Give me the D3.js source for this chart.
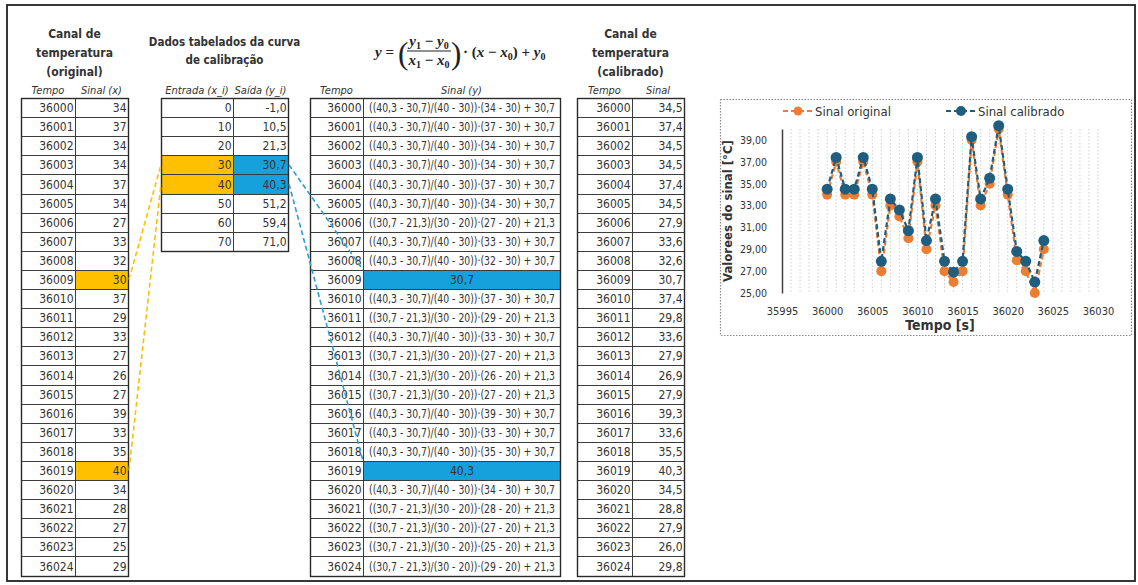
<!DOCTYPE html>
<html>
<head>
<meta charset="utf-8">
<script src="https://cdn.jsdelivr.net/npm/d3@7"></script>
<style>
body { margin: 0; background: #fff; }
text { font-family: "Liberation Sans Narrow", "DejaVu Sans Condensed", "Arial Narrow", sans-serif; fill: #333; }
text.eq { font-family: "Liberation Serif", "DejaVu Serif", serif; font-weight: bold; font-size: 15px; fill: #222; }
</style>
</head>
<body>
<script>
var width = 1138;
var height = 585;

// dados
var tempo = [36000, 36001, 36002, 36003, 36004, 36005, 36006, 36007, 36008, 36009, 36010, 36011, 36012,
    36013, 36014, 36015, 36016, 36017, 36018, 36019, 36020, 36021, 36022, 36023, 36024];
var sinalOriginal = [34, 37, 34, 34, 37, 34, 27, 33, 32, 30, 37, 29, 33, 27, 26, 27, 39, 33, 35, 40, 34, 28, 27, 25, 29];
var sinalCalibrado = [34.5, 37.4, 34.5, 34.5, 37.4, 34.5, 27.9, 33.6, 32.6, 30.7, 37.4, 29.8, 33.6, 27.9, 26.9,
    27.9, 39.3, 33.6, 35.5, 40.3, 34.5, 28.8, 27.9, 26.0, 29.8];
var entrada = [0, 10, 20, 30, 40, 50, 60, 70];
var saida = [-1.0, 10.5, 21.3, 30.7, 40.3, 51.2, 59.4, 71.0];
var formulas = [
    "((40,3 - 30,7)/(40 - 30))·(34 - 30) + 30,7",
    "((40,3 - 30,7)/(40 - 30))·(37 - 30) + 30,7",
    "((40,3 - 30,7)/(40 - 30))·(34 - 30) + 30,7",
    "((40,3 - 30,7)/(40 - 30))·(34 - 30) + 30,7",
    "((40,3 - 30,7)/(40 - 30))·(37 - 30) + 30,7",
    "((40,3 - 30,7)/(40 - 30))·(34 - 30) + 30,7",
    "((30,7 - 21,3)/(30 - 20))·(27 - 20) + 21,3",
    "((40,3 - 30,7)/(40 - 30))·(33 - 30) + 30,7",
    "((40,3 - 30,7)/(40 - 30))·(32 - 30) + 30,7",
    "30,7",
    "((40,3 - 30,7)/(40 - 30))·(37 - 30) + 30,7",
    "((30,7 - 21,3)/(30 - 20))·(29 - 20) + 21,3",
    "((40,3 - 30,7)/(40 - 30))·(33 - 30) + 30,7",
    "((30,7 - 21,3)/(30 - 20))·(27 - 20) + 21,3",
    "((30,7 - 21,3)/(30 - 20))·(26 - 20) + 21,3",
    "((30,7 - 21,3)/(30 - 20))·(27 - 20) + 21,3",
    "((40,3 - 30,7)/(40 - 30))·(39 - 30) + 30,7",
    "((40,3 - 30,7)/(40 - 30))·(33 - 30) + 30,7",
    "((40,3 - 30,7)/(40 - 30))·(35 - 30) + 30,7",
    "40,3",
    "((40,3 - 30,7)/(40 - 30))·(34 - 30) + 30,7",
    "((30,7 - 21,3)/(30 - 20))·(28 - 20) + 21,3",
    "((30,7 - 21,3)/(30 - 20))·(27 - 20) + 21,3",
    "((30,7 - 21,3)/(30 - 20))·(25 - 20) + 21,3",
    "((30,7 - 21,3)/(30 - 20))·(29 - 20) + 21,3"
];
var marcados = [36009, 36019];   // linhas que caem exatamente em 30 e 40
var pontosCurva = [30, 40];
var xTicks = [35995, 36000, 36005, 36010, 36015, 36020, 36025, 36030];
var yTicks = [25, 27, 29, 31, 33, 35, 37, 39];

var laranja = "#FFC000", azul = "#17A1DC";

var br = d3.formatLocale({decimal: ",", thousands: ".", grouping: [3], currency: ["R$", ""], minus: "-"});
var f1 = br.format(".1f"), f2 = br.format(".2f");

var svg = d3.select("body")
        .append("svg")
        .attr("width", width)
        .attr("height", height);

svg.append("rect")
        .attr("x", 7).attr("y", 5)
        .attr("width", 1128).attr("height", 576)
        .attr("fill", "none").attr("stroke", "#222").attr("stroke-width", 1.8);

var rowY = d3.scaleLinear().domain([0, 25]).range([98, 575.5]);
var rowMid = function (i) { return rowY(i + 0.5); };

function drawTable(cols, rows) {
    var g = svg.append("g");
    rows.forEach(function (row, i) {
        var ci = 0;
        var y0 = Math.round(rowY(i)) + 0.5, y1 = Math.round(rowY(i + 1)) + 0.5;
        row.forEach(function (c) {
            var span = c.span || 1;
            var xa = cols[ci] + 0.5, xb = cols[ci + span] + 0.5;
            g.append("rect")
                    .attr("x", xa).attr("y", y0)
                    .attr("width", xb - xa).attr("height", y1 - y0)
                    .attr("fill", c.fill || "#fff")
                    .attr("stroke", "#3c3c3c").attr("stroke-width", 1);
            var t = g.append("text")
                    .attr("y", (y0 + y1) / 2 + 4)
                    .attr("font-size", 12)
                    .text(c.t);
            if (c.mid) {
                t.attr("x", (xa + xb) / 2).attr("text-anchor", "middle");
            } else {
                t.attr("x", xb - 2).attr("text-anchor", "end");
            }
            if (c.len) t.attr("textLength", c.len).attr("lengthAdjust", "spacingAndGlyphs");
            ci += span;
        });
    });
    g.append("rect")
            .attr("x", cols[0] + 0.5).attr("y", Math.round(rowY(0)) + 0.5)
            .attr("width", cols[cols.length - 1] - cols[0])
            .attr("height", Math.round(rowY(rows.length)) - Math.round(rowY(0)))
            .attr("fill", "none").attr("stroke", "#2a2a2a").attr("stroke-width", 1.4);
}

function label(x, y, txt, opt) {
    opt = opt || {};
    return svg.append("text")
            .attr("x", x).attr("y", y)
            .attr("text-anchor", "middle")
            .attr("font-size", opt.size || 11)
            .attr("font-weight", opt.bold ? "bold" : null)
            .attr("font-style", opt.italic ? "italic" : null)
            .attr("fill", opt.color || "#333")
            .text(txt);
}

var t1 = [21, 75, 128], t2 = [161, 233, 288], tf = [310, 363, 560], tc = [577, 632, 684];

// tabela 1 - original
drawTable(t1, tempo.map(function (d, i) {
    return [{t: d}, {t: sinalOriginal[i], fill: marcados.indexOf(d) >= 0 ? laranja : null}];
}));
// tabela 2 - curva de calibracao
drawTable(t2, entrada.map(function (d, i) {
    var m = pontosCurva.indexOf(d) >= 0;
    return [{t: d, fill: m ? laranja : null}, {t: f1(saida[i]), fill: m ? azul : null}];
}));
// tabela 3 - formulas
drawTable(tf, tempo.map(function (d, i) {
    if (marcados.indexOf(d) >= 0) return [{t: d}, {t: formulas[i], fill: azul, mid: true}];
    return [{t: d}, {t: formulas[i], mid: true, len: 186}];
}));
// tabela 4 - calibrado
drawTable(tc, tempo.map(function (d, i) {
    return [{t: d}, {t: f1(sinalCalibrado[i])}];
}));

// titulos
["Canal de", "temperatura", "(original)"].forEach(function (s, i) {
    label((t1[0] + t1[2]) / 2, 37.5 + i * 19, s, {bold: true, size: 12, color: "#222"});
});
["Dados tabelados da curva", "de calibração"].forEach(function (s, i) {
    label((t2[0] + t2[2]) / 2, 46 + i * 18, s, {bold: true, size: 11.5, color: "#222"});
});
["Canal de", "temperatura", "(calibrado)"].forEach(function (s, i) {
    label((tc[0] + tc[2]) / 2, 37.5 + i * 19, s, {bold: true, size: 12, color: "#222"});
});
[[t1, "Tempo", "Sinal (x)"], [t2, "Entrada (x_i)", "Saída (y_i)"], [tf, "Tempo", "Sinal (y)"], [tc, "Tempo", "Sinal"]]
        .forEach(function (h) {
            label((h[0][0] + h[0][1]) / 2, 94, h[1], {italic: true, size: 11});
            label((h[0][1] + h[0][2]) / 2, 94, h[2], {italic: true, size: 11});
        });

// equacao
function eqText(px, py, parts, anchor) {
    var t = svg.append("text").attr("class", "eq")
            .attr("x", px).attr("y", py)
            .attr("text-anchor", anchor || "start");
    var low = false;
    parts.forEach(function (p) {
        var s = t.append("tspan").text(p[0]);
        if (p[1] === "s") {
            s.attr("font-size", 10).attr("dy", low ? 0 : 3);
            low = true;
        } else {
            if (low) s.attr("dy", -3);
            low = false;
            if (p[1] === "i") s.attr("font-style", "italic");
        }
    });
    return t;
}
eqText(375, 57, [["y", "i"], [" =", ""]]);
eqText(398, 64, [["(", ""]]).style("font-size", "31px").style("font-weight", "normal");
eqText(429, 46, [["y", "i"], ["1", "s"], [" − ", ""], ["y", "i"], ["0", "s"]], "middle");
svg.append("line").attr("x1", 407).attr("x2", 451).attr("y1", 51).attr("y2", 51)
        .attr("stroke", "#222").attr("stroke-width", 1.2);
eqText(429, 65, [["x", "i"], ["1", "s"], [" − ", ""], ["x", "i"], ["0", "s"]], "middle");
eqText(451, 64, [[")", ""]]).style("font-size", "31px").style("font-weight", "normal");
eqText(463, 57, [["· (", ""], ["x", "i"], [" − ", ""], ["x", "i"], ["0", "s"], [") + ", ""], ["y", "i"], ["0", "s"]]);

// ligacoes tracejadas
var conectores = [
    {a: [t1[2] + 1, rowMid(tempo.indexOf(marcados[0]))], b: [t2[0], rowMid(entrada.indexOf(pontosCurva[0]))], c: laranja},
    {a: [t1[2] + 1, rowMid(tempo.indexOf(marcados[1]))], b: [t2[0], rowMid(entrada.indexOf(pontosCurva[1]))], c: laranja},
    {a: [t2[2] + 1, rowMid(entrada.indexOf(pontosCurva[0]))], b: [tf[1], rowY(tempo.indexOf(marcados[0]))], c: "#2A9FD0"},
    {a: [t2[2] + 1, rowMid(entrada.indexOf(pontosCurva[1]))], b: [tf[1], rowY(tempo.indexOf(marcados[1]))], c: "#2A9FD0"}
];
svg.selectAll(".con")
        .data(conectores)
        .enter().append("line")
        .classed("con", true)
        .attr("x1", function (d) { return d.a[0]; })
        .attr("y1", function (d) { return d.a[1]; })
        .attr("x2", function (d) { return d.b[0]; })
        .attr("y2", function (d) { return d.b[1]; })
        .attr("stroke", function (d) { return d.c; })
        .attr("stroke-width", 1.6)
        .attr("stroke-dasharray", "5,3");

// grafico
svg.append("rect")
        .attr("x", 720.5).attr("y", 99.5)
        .attr("width", 411).attr("height", 236)
        .attr("fill", "#fff").attr("stroke", "#8a8a8a")
        .attr("stroke-width", 1.2).attr("stroke-dasharray", "1.5,1.5");

var x = d3.scaleLinear().domain([35995, 36030]).range([782, 1098]),
        y = d3.scaleLinear().domain([25, 40]).range([293, 129]);

svg.append("g")
        .selectAll("line")
        .data(d3.range(35996, 36031))
        .enter().append("line")
        .attr("x1", function (d) { return x(d); })
        .attr("x2", function (d) { return x(d); })
        .attr("y1", y(40)).attr("y2", y(25))
        .attr("stroke", "#cfcfcf").attr("stroke-width", 1)
        .attr("stroke-dasharray", "1.5,2");

var yAxis = svg.append("g")
        .attr("transform", "translate(" + x(35995) + ",0)")
        .call(d3.axisLeft(y).tickValues(yTicks).tickFormat(f2).tickSize(0).tickPadding(15));
yAxis.select(".domain").attr("stroke", "#404040").attr("stroke-width", 1.5);
yAxis.selectAll("text").attr("font-size", 10.5).attr("fill", "#404040")
        .style("font-family", "'Liberation Sans Narrow', 'DejaVu Sans Condensed', sans-serif");

var xAxis = svg.append("g")
        .attr("transform", "translate(0," + y(25) + ")")
        .call(d3.axisBottom(x).tickValues(xTicks).tickFormat(d3.format("d")).tickSize(0).tickPadding(14));
xAxis.select(".domain").remove();
xAxis.selectAll("text").attr("font-size", 11).attr("fill", "#404040")
        .style("font-family", "'Liberation Sans Narrow', 'DejaVu Sans Condensed', sans-serif");

svg.append("text")
        .attr("transform", "translate(732," + (y(25) + y(40)) / 2 + ") rotate(-90)")
        .attr("text-anchor", "middle")
        .attr("font-size", 13).attr("font-weight", "bold").attr("fill", "#404040")
        .text("Valorees do sinal [°C]");
label((x(35995) + x(36030)) / 2, 330, "Tempo [s]", {bold: true, size: 14, color: "#404040"});

var series = [
    {nome: "Sinal original", valores: sinalOriginal, cor: "#ED7D31", r: 5},
    {nome: "Sinal calibrado", valores: sinalCalibrado, cor: "#1F5E7E", r: 5.5}
];
var line = d3.line()
        .x(function (d, i) { return x(tempo[i]); })
        .y(function (d) { return y(d); });

series.forEach(function (s) {
    svg.append("path")
            .attr("d", line(s.valores))
            .attr("fill", "none").attr("stroke", s.cor)
            .attr("stroke-width", 2.2).attr("stroke-dasharray", "5,3");
    svg.append("g").selectAll("circle")
            .data(s.valores)
            .enter().append("circle")
            .attr("cx", function (d, i) { return x(tempo[i]); })
            .attr("cy", function (d) { return y(d); })
            .attr("r", s.r)
            .attr("fill", s.cor);
});

// legenda
[[783, series[0]], [946, series[1]]].forEach(function (l) {
    var lx = l[0], s = l[1];
    svg.append("line").attr("x1", lx).attr("x2", lx + 30).attr("y1", 111).attr("y2", 111)
            .attr("stroke", s.cor).attr("stroke-width", 2.2).attr("stroke-dasharray", "5,3");
    svg.append("circle").attr("cx", lx + 15).attr("cy", 111).attr("r", s.r - 0.5).attr("fill", s.cor);
    svg.append("text").attr("x", lx + 32).attr("y", 115.5)
            .attr("font-size", 13).attr("fill", "#404040")
            .text(s.nome);
});
</script>
</body>
</html>
